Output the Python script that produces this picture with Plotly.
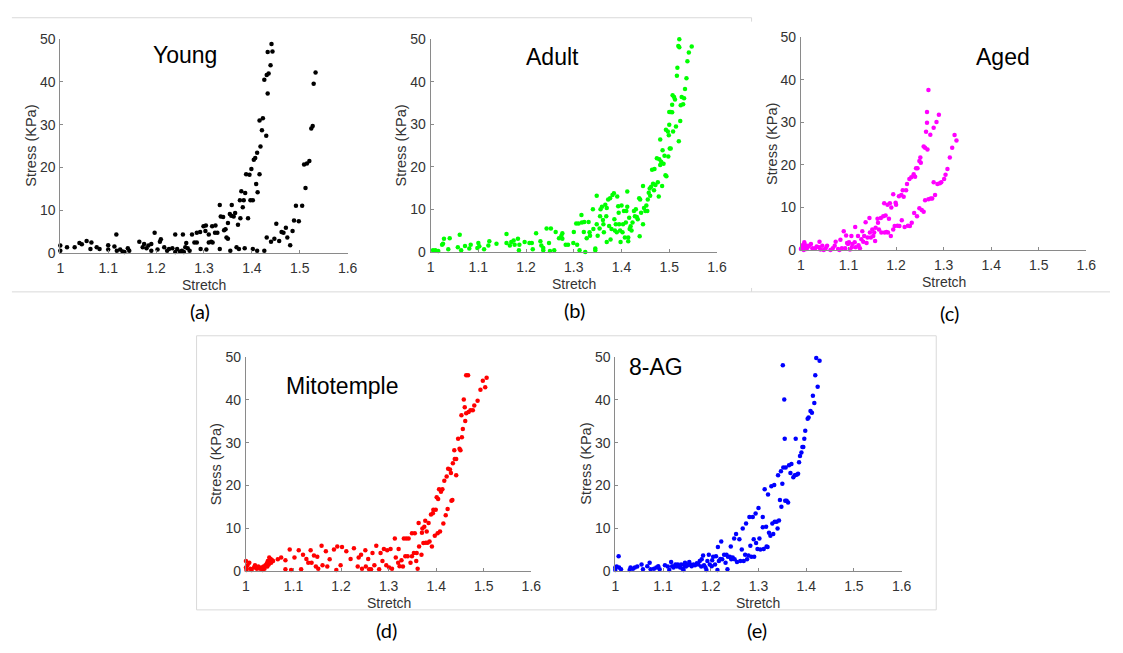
import plotly.graph_objects as go

W, H = 1123, 653

# ---------------- data ----------------
young_x = [1.0,1.0,1.014,1.03,1.04,1.045,1.055,1.063,1.065,1.076,1.082,1.1,1.1,1.117,1.113,1.118,1.125,1.13,1.134,1.141,1.144,1.165,1.172,1.175,1.18,1.184,1.19,1.19,1.197,1.203,1.208,1.21,1.217,1.223,1.227,1.234,1.24,1.244,1.24,1.25,1.254,1.256,1.258,1.261,1.263,1.266,1.27,1.275,1.28,1.285,1.285,1.292,1.293,1.299,1.304,1.303,1.305,1.31,1.31,1.315,1.318,1.317,1.324,1.323,1.328,1.333,1.335,1.34,1.333,1.342,1.345,1.347,1.35,1.35,1.354,1.357,1.358,1.355,1.362,1.365,1.368,1.371,1.373,1.376,1.375,1.378,1.383,1.381,1.385,1.386,1.388,1.392,1.395,1.397,1.399,1.402,1.402,1.404,1.407,1.409,1.411,1.412,1.411,1.416,1.416,1.418,1.421,1.423,1.426,1.426,1.43,1.431,1.433,1.433,1.435,1.439,1.441,1.443,1.431,1.44,1.447,1.451,1.457,1.462,1.466,1.471,1.474,1.48,1.485,1.488,1.492,1.498,1.505,1.509,1.512,1.515,1.52,1.524,1.527,1.529,1.533]
young_y = [1.7,0.5,1.3,1.3,2.3,2.0,2.8,0.9,2.4,1.3,0.9,1.8,0.8,4.3,1.5,0.5,0.8,0.3,0.2,1.1,0.5,2.6,1.3,2.1,1.1,1.7,2.1,0.5,4.7,0.8,2.6,3.2,1.3,0.5,0.9,1.1,4.3,0.9,0.2,0.3,0.5,4.3,0.2,1.3,2.3,1.1,0.5,4.3,2.4,2.4,4.7,4.9,0.9,6.2,6.4,5.1,0.8,4.3,2.4,2.6,2.4,6.2,6.4,4.7,4.7,11.2,8.5,8.4,0.9,5.3,5.5,3.6,3.3,7.0,9.1,8.7,11.2,0.5,8.5,9.3,1.3,6.6,0.9,8.1,12.3,14.4,12.3,10.7,1.1,14.0,18.4,8.1,18.3,12.3,19.6,12.3,0.9,21.8,22.2,16.1,23.4,14.2,0.5,31.0,18.4,24.9,28.7,31.5,0.5,40.5,27.4,41.6,37.3,47.0,42.0,43.9,48.9,47.1,3.6,2.6,3.3,6.8,2.8,4.9,4.7,5.9,3.6,1.8,5.1,7.6,11.0,7.4,11.0,20.7,15.2,20.9,21.5,29.1,29.7,39.6,42.2]

adult_x = [1.005,1.01,1.016,1.024,1.028,1.026,1.037,1.04,1.057,1.061,1.064,1.072,1.081,1.084,1.098,1.1,1.102,1.112,1.121,1.123,1.138,1.159,1.159,1.166,1.169,1.174,1.176,1.183,1.185,1.186,1.197,1.207,1.212,1.214,1.221,1.23,1.232,1.236,1.236,1.243,1.248,1.252,1.25,1.259,1.262,1.269,1.274,1.276,1.276,1.283,1.288,1.299,1.3,1.305,1.307,1.31,1.312,1.316,1.317,1.321,1.322,1.324,1.327,1.331,1.333,1.334,1.34,1.341,1.345,1.345,1.348,1.348,1.35,1.354,1.355,1.356,1.359,1.361,1.362,1.363,1.366,1.368,1.369,1.369,1.372,1.374,1.376,1.377,1.379,1.381,1.384,1.385,1.386,1.388,1.39,1.391,1.393,1.394,1.395,1.397,1.398,1.4,1.402,1.403,1.405,1.407,1.409,1.41,1.412,1.412,1.414,1.414,1.416,1.417,1.419,1.421,1.423,1.426,1.428,1.43,1.432,1.434,1.437,1.438,1.439,1.441,1.445,1.445,1.447,1.45,1.452,1.454,1.455,1.457,1.459,1.46,1.462,1.464,1.466,1.468,1.469,1.471,1.474,1.476,1.478,1.479,1.481,1.481,1.483,1.485,1.486,1.488,1.49,1.492,1.493,1.494,1.497,1.498,1.499,1.5,1.501,1.503,1.5,1.503,1.506,1.506,1.507,1.508,1.51,1.512,1.514,1.516,1.517,1.519,1.52,1.521,1.521,1.523,1.524,1.526,1.529,1.531,1.533,1.536,1.538,1.541,1.547]
adult_y = [0.4,0.4,0.2,1.7,3.1,1.9,0.6,3.2,1.1,4.0,0.4,1.4,0.8,1.7,0.9,2.1,1.3,0.6,1.5,2.5,1.9,4.2,2.1,1.5,2.3,2.7,1.7,3.1,0.4,1.7,2.3,2.1,2.1,0.6,4.4,2.5,1.5,0.4,0.9,5.5,2.1,5.5,0.2,0.4,4.7,3.2,3.8,4.4,3.1,1.7,1.7,2.1,4.7,6.7,1.7,6.7,0.4,8.7,6.9,4.7,7.0,0.0,3.2,7.0,4.6,3.8,10.0,5.4,0.8,0.4,13.2,6.5,3.8,5.5,8.4,10.0,10.6,7.5,6.5,4.6,11.1,8.4,10.3,2.3,12.3,6.1,12.6,2.9,5.4,13.4,13.8,7.7,5.0,6.5,4.6,13.0,10.7,9.2,6.5,5.0,2.3,10.9,4.6,6.5,9.6,3.4,6.9,9.6,14.2,10.6,3.4,2.5,8.0,5.4,6.0,5.0,6.9,9.6,8.4,10.0,8.2,7.7,12.6,3.7,12.3,9.2,15.5,6.5,10.3,9.6,10.9,9.6,12.3,13.9,14.9,13.2,15.3,19.3,16.0,14.5,19.5,15.7,22.0,16.4,13.0,21.8,26.4,20.4,21.2,15.5,23.9,20.7,22.6,18.0,28.7,17.8,28.3,22.4,27.4,29.9,24.3,24.3,32.9,32.9,32.8,34.6,36.8,28.3,36.4,35.8,29.5,41.4,43.3,48.4,26.0,50.0,48.1,30.8,34.5,36.4,34.7,36.1,38.3,40.8,44.8,46.9,48.3]

aged_x = [1.0,1.002,1.003,1.006,1.007,1.009,1.01,1.012,1.014,1.017,1.021,1.024,1.03,1.033,1.038,1.039,1.041,1.045,1.048,1.052,1.055,1.062,1.067,1.071,1.073,1.078,1.081,1.083,1.086,1.09,1.093,1.095,1.097,1.099,1.101,1.103,1.106,1.107,1.108,1.113,1.114,1.115,1.12,1.121,1.124,1.127,1.129,1.131,1.133,1.136,1.138,1.14,1.144,1.145,1.147,1.15,1.152,1.154,1.156,1.157,1.161,1.162,1.164,1.168,1.169,1.173,1.175,1.176,1.178,1.18,1.182,1.183,1.185,1.187,1.189,1.19,1.194,1.194,1.197,1.199,1.2,1.203,1.206,1.207,1.211,1.212,1.214,1.216,1.218,1.221,1.223,1.225,1.228,1.229,1.232,1.233,1.237,1.238,1.24,1.242,1.244,1.245,1.249,1.249,1.251,1.252,1.254,1.258,1.258,1.261,1.261,1.263,1.265,1.265,1.266,1.268,1.268,1.272,1.273,1.276,1.279,1.279,1.282,1.285,1.287,1.29,1.292,1.295,1.301,1.304,1.308,1.313,1.318,1.323,1.327]
aged_y = [0.2,0.6,1.1,0.0,1.8,0.4,1.1,0.2,0.6,1.0,1.4,0.4,0.4,0.8,0.6,1.9,0.1,1.0,0.0,0.4,1.0,0.0,0.4,1.0,1.9,0.2,0.0,2.4,0.4,4.4,0.4,3.4,1.6,1.4,1.8,0.1,3.3,0.6,1.4,1.8,5.4,0.6,3.3,1.1,0.4,2.5,4.4,1.9,3.3,6.5,1.6,2.9,7.5,4.1,2.9,4.8,3.3,4.1,2.1,5.2,7.3,6.4,4.8,7.5,4.1,7.9,11.0,4.1,8.1,4.2,10.6,4.1,7.3,11.0,3.3,10.0,13.1,4.8,5.6,11.1,10.6,5.7,12.6,5.6,12.9,7.0,14.0,12.5,5.4,14.0,15.5,5.7,16.7,5.6,17.1,6.4,17.8,8.7,17.2,19.2,7.9,19.2,20.9,9.8,21.7,20.5,9.4,24.3,9.0,24.0,11.7,27.8,32.4,29.9,23.6,11.9,37.6,27.1,12.1,12.1,28.7,15.9,12.9,30.1,15.5,31.8,15.7,15.9,16.7,17.7,19.0,21.7,24.0,27.0,25.7]

mito_x = [1.0,1.0,1.001,1.003,1.007,1.009,1.012,1.017,1.019,1.023,1.026,1.03,1.032,1.035,1.037,1.039,1.041,1.044,1.045,1.046,1.048,1.049,1.05,1.052,1.053,1.055,1.057,1.067,1.074,1.083,1.083,1.092,1.095,1.102,1.111,1.116,1.12,1.127,1.131,1.136,1.138,1.143,1.147,1.15,1.152,1.159,1.161,1.168,1.171,1.176,1.185,1.19,1.192,1.199,1.202,1.211,1.22,1.227,1.235,1.237,1.242,1.244,1.251,1.252,1.257,1.259,1.263,1.266,1.27,1.274,1.28,1.283,1.287,1.29,1.295,1.297,1.301,1.304,1.307,1.313,1.315,1.32,1.321,1.323,1.327,1.33,1.332,1.335,1.337,1.34,1.342,1.346,1.349,1.349,1.353,1.355,1.358,1.359,1.361,1.363,1.364,1.369,1.37,1.371,1.373,1.375,1.377,1.378,1.38,1.382,1.384,1.386,1.389,1.391,1.393,1.394,1.397,1.399,1.401,1.403,1.404,1.406,1.408,1.41,1.413,1.415,1.417,1.42,1.422,1.424,1.425,1.429,1.431,1.432,1.434,1.435,1.438,1.439,1.442,1.442,1.446,1.449,1.451,1.453,1.454,1.456,1.458,1.46,1.461,1.463,1.463,1.467,1.468,1.472,1.477,1.48,1.487,1.493,1.498,1.503,1.506]
mito_y = [2.3,0.8,0.2,1.3,1.9,0.5,0.2,0.8,1.3,0.5,1.0,0.5,0.8,0.2,1.0,0.5,1.3,1.8,1.0,2.3,1.5,3.1,2.1,2.8,1.9,2.5,2.3,2.7,3.1,2.5,0.4,5.0,0.2,3.1,4.8,0.4,3.8,2.8,1.9,4.8,1.9,3.6,1.0,3.3,0.5,5.9,1.3,4.6,1.0,2.7,5.0,0.2,5.7,1.3,5.6,4.6,2.8,5.3,1.0,3.1,3.8,0.5,4.8,1.0,2.8,0.4,0.4,4.2,1.3,5.9,0.4,4.2,2.3,5.1,1.3,4.8,0.8,5.1,0.5,7.6,3.1,1.9,5.1,1.1,2.5,1.0,7.6,3.4,7.6,3.4,7.6,1.9,8.8,3.4,4.2,8.8,2.3,4.2,0.5,11.2,5.7,3.8,8.9,9.9,6.5,10.3,11.7,6.6,9.2,6.6,11.2,6.9,13.2,5.7,13.5,14.3,8.2,14.3,17.2,8.8,16.8,19.1,9.2,18.5,19.1,11.1,21.1,13.0,22.1,14.5,23.9,23.7,22.9,16.4,16.6,25.2,28.2,26.2,26.2,22.4,30.9,28.6,28.2,36.4,31.3,33.2,40.1,38.3,35.1,36.9,45.8,45.8,37.2,37.6,37.6,38.7,39.8,42.4,44.5,43.0,45.2]

ag8_x = [1.0,1.0,1.003,1.008,1.007,1.012,1.03,1.032,1.037,1.041,1.046,1.055,1.058,1.067,1.072,1.074,1.081,1.086,1.09,1.093,1.104,1.11,1.113,1.117,1.119,1.122,1.126,1.129,1.131,1.134,1.136,1.138,1.141,1.143,1.145,1.146,1.148,1.15,1.152,1.155,1.157,1.16,1.164,1.167,1.171,1.174,1.177,1.18,1.181,1.184,1.186,1.189,1.191,1.193,1.196,1.198,1.202,1.203,1.205,1.209,1.211,1.214,1.215,1.217,1.22,1.222,1.224,1.228,1.231,1.233,1.235,1.236,1.24,1.242,1.243,1.246,1.249,1.25,1.253,1.255,1.26,1.262,1.265,1.267,1.269,1.272,1.274,1.276,1.279,1.281,1.283,1.285,1.288,1.29,1.291,1.294,1.295,1.298,1.3,1.302,1.304,1.309,1.309,1.311,1.313,1.316,1.317,1.319,1.32,1.322,1.325,1.327,1.329,1.331,1.333,1.334,1.338,1.34,1.341,1.343,1.345,1.347,1.348,1.35,1.351,1.352,1.354,1.355,1.356,1.357,1.359,1.362,1.364,1.367,1.369,1.373,1.376,1.378,1.38,1.383,1.385,1.387,1.39,1.392,1.394,1.396,1.398,1.403,1.405,1.409,1.412,1.414,1.417,1.419,1.421,1.424,1.428]
ag8_y = [0.8,0.2,1.0,0.8,3.4,0.4,0.2,0.8,0.5,0.8,1.0,1.5,0.4,1.1,1.9,0.4,0.5,0.8,1.1,0.4,1.3,1.0,0.2,2.1,1.1,0.8,1.5,1.0,1.5,1.1,0.8,1.5,0.5,0.2,1.3,1.9,1.0,1.5,1.3,2.1,1.5,1.1,1.5,1.3,1.8,1.5,2.3,1.0,2.7,3.6,1.3,0.8,0.2,2.3,3.8,1.5,1.1,2.5,3.3,1.5,3.4,0.2,5.6,2.3,2.8,6.9,2.7,3.8,1.9,3.8,0.4,3.3,3.3,5.7,2.7,3.1,7.6,2.7,8.6,2.1,7.4,2.3,5.0,9.9,2.3,3.8,11.1,2.7,3.6,12.6,5.9,3.3,12.6,7.4,3.3,13.4,6.5,5.1,14.7,7.6,5.0,12.6,10.2,5.1,19.1,10.3,5.7,5.6,17.9,8.9,8.2,19.8,11.1,8.6,20.1,11.5,11.5,9.9,22.4,11.8,16.6,23.3,15.0,20.4,48.1,24.2,40.1,30.9,16.4,24.2,16.4,16.0,24.7,22.9,25.0,21.9,22.4,30.9,22.5,22.7,25.4,26.9,27.7,29.0,29.0,30.9,32.8,35.6,35.9,37.4,37.0,41.0,39.3,45.8,49.8,43.1,49.2]

group_names = ["Young", "Adult", "Aged", "Mitotemple", "8-AG"]
panel_labels = ["(a)", "(b)", "(c)", "(d)", "(e)"]
x_ticks = [1, 1.1, 1.2, 1.3, 1.4, 1.5, 1.6]
x_tick_text = ["1", "1.1", "1.2", "1.3", "1.4", "1.5", "1.6"]
y_ticks = [0, 10, 20, 30, 40, 50]
x_title = "Stretch"
y_title = "Stress (KPa)"

series = [(young_x, young_y), (adult_x, adult_y), (aged_x, aged_y),
          (mito_x, mito_y), (ag8_x, ag8_y)]
colors = ["#000000", "#00ff00", "#ff00ff", "#ff0000", "#0000ff"]

# ---------------- layout (pixels) ----------------
# axes boxes: (left, right, top, bottom) in px
boxes = [(57, 348, 32, 251), (432, 722, 32, 250), (807, 1096, 30, 248),
         (245, 534, 358, 577), (619, 909, 358, 577)]
title_pos = [(183, 48), (555, 50), (1012, 50), (342, 388), (660, 368)]
label_pos = [(198, 311), (578, 310), (957, 313), (387, 638), (762, 638)]

def fx(px):
    return px / W

def fy(py):
    return 1 - py / H

fig = go.Figure()
annotations = []
AXC = "#8a8a8a"
TXT = "#333333"
FONT = "Liberation Sans, Arial, sans-serif"

for i, ((xs, ys), col, box) in enumerate(zip(series, colors, boxes)):
    n = i + 1
    xa = "x" if n == 1 else f"x{n}"
    ya = "y" if n == 1 else f"y{n}"
    fig.add_trace(go.Scatter(x=xs, y=ys, mode="markers", xaxis=xa, yaxis=ya,
                             marker=dict(color=col, size=4.5, line=dict(width=0)),
                             cliponaxis=False, showlegend=False,
                             name=group_names[i]))
    l, r, t, b = box
    common = dict(showgrid=False, zeroline=False, showline=True, linecolor=AXC,
                  linewidth=1, ticks="inside", ticklen=3, tickcolor=AXC,
                  tickfont=dict(family=FONT, size=14, color=TXT), fixedrange=True)
    fig.layout[f"xaxis{'' if n == 1 else n}"] = dict(
        domain=[fx(l), fx(r)], range=[1, 1.6], anchor=ya,
        tickvals=x_ticks, ticktext=x_tick_text, ticklabelstandoff=2, **common)
    fig.layout[f"yaxis{'' if n == 1 else n}"] = dict(
        domain=[fy(b), fy(t)], range=[0, 50], anchor=xa,
        tickvals=y_ticks, ticklabelstandoff=1, **common)
    # axis titles
    annotations.append(dict(x=fx((l + r) / 2), y=fy(b + 33), xref="paper", yref="paper",
                            text=x_title, showarrow=False, xanchor="center", yanchor="middle",
                            font=dict(family=FONT, size=14, color=TXT)))
    annotations.append(dict(x=fx(l - 30), y=fy((t + b) / 2), xref="paper", yref="paper",
                            text=y_title, showarrow=False, textangle=-90,
                            xanchor="center", yanchor="middle",
                            font=dict(family=FONT, size=14.5, color=TXT)))
    # group title
    tx, ty = title_pos[i]
    annotations.append(dict(x=fx(tx), y=fy(ty), xref="paper", yref="paper",
                            text=group_names[i], showarrow=False,
                            xanchor="center", yanchor="middle",
                            font=dict(family=FONT, size=23, color="#000000")))
    # panel label
    lx, ly = label_pos[i]
    annotations.append(dict(x=fx(lx), y=fy(ly), xref="paper", yref="paper",
                            text=panel_labels[i], showarrow=False,
                            xanchor="center", yanchor="middle",
                            font=dict(family="Lato, Open Sans, sans-serif", size=20, color="#000000")))

# light frame lines around the composed panels
FR = "#d9d9d9"
frame_lines = [(8, 10, 757, 10), (8, 291, 1120, 291), (757, 10, 757, 14), (757, 287, 757, 291),
               (195, 336, 944, 336), (195, 617, 944, 617), (195, 336, 195, 617), (944, 336, 944, 617)]
shapes = [dict(type="line", xref="paper", yref="paper", x0=fx(a), y0=fy(b_), x1=fx(c), y1=fy(d),
               line=dict(color=FR, width=1)) for a, b_, c, d in frame_lines]

fig.update_layout(width=W, height=H, margin=dict(l=0, r=0, t=0, b=0),
                  paper_bgcolor="white", plot_bgcolor="white",
                  annotations=annotations, shapes=shapes, showlegend=False)

fig.write_html("out.html", config={"displayModeBar": False})
